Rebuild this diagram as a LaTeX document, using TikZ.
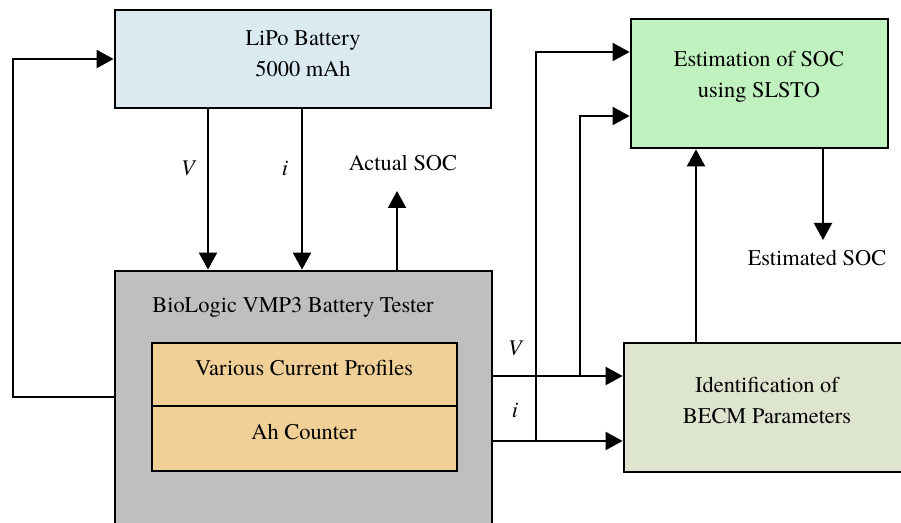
\documentclass[tikz,border=0pt]{standalone}
\usepackage{fontspec}
\setmainfont{texgyretermes}[Extension=.otf, UprightFont=*-regular, ItalicFont=*-italic, BoldFont=*-bold]
\usepackage{tikz}
\usetikzlibrary{arrows.meta}
\definecolor{battfill}{HTML}{DAEAF0}
\definecolor{testfill}{HTML}{BFBFBF}
\definecolor{profill}{HTML}{F0D096}
\definecolor{estfill}{HTML}{C0F2BF}
\definecolor{idfill}{HTML}{DDE5CF}
\tikzset{
  blk/.style={draw=black, line width=1.4pt, inner sep=0pt},
  lnk/.style={draw=black, line width=1.1pt, -{Triangle[length=8.5pt,width=9pt]}},
  txt/.style={font=\fontsize{11.2}{15.5}\selectfont, align=center, inner sep=0pt},
  sig/.style={font=\fontsize{11.2}{13}\selectfont\itshape, inner sep=0pt}
}

\begin{document}
\begin{tikzpicture}[x=0.5pt,y=-0.5pt]
  \useasboundingbox (0,0) rectangle (901,523);
  \clip (0,0) rectangle (901,523);

  % blocks
  \node[blk, fill=battfill, minimum width=188pt, minimum height=49pt] (bat) at (303,59) {};
  \node[blk, fill=testfill, minimum width=188.5pt, minimum height=134.5pt] (tst) at (303.5,405.5) {};
  \node[blk, fill=profill, minimum width=152.5pt, minimum height=31.5pt] (prof) at (304.5,374.5) {};
  \node[blk, fill=profill, minimum width=152.5pt, minimum height=32.5pt] (ahc) at (304.5,438.5) {};
  \node[blk, fill=estfill, minimum width=128.5pt, minimum height=64.5pt] (est) at (759.5,83.5) {};
  \node[blk, fill=idfill, minimum width=145.5pt, minimum height=64.5pt] (becm) at (769.5,407.5) {};

  \node[txt] (batT) at (303,54) {LiPo Battery\\5000 mAh};
  \node[txt] (tstT) at (293,307) {BioLogic VMP3 Battery Tester};
  \node[txt] (profT) at (304,368) {Various Current Profiles};
  \node[txt] (ahcT) at (304,432) {Ah Counter};
  \node[txt] (estT) at (759,77) {Estimation of SOC\\using SLSTO};
  \node[txt] (becmT) at (767,401) {Identification of\\BECM Parameters};

  % tap points
  \coordinate (fb) at (12.6,397);
  \coordinate (vx) at (208,0);
  \coordinate (ix) at (302,0);
  \coordinate (socx) at (397,191);
  \coordinate (vy) at (0,376);
  \coordinate (iy) at (0,441);
  \coordinate (j1) at (536,441);
  \coordinate (j2) at (580,376);
  \coordinate (e1) at (0,52);
  \coordinate (e2) at (0,116);
  \coordinate (ux) at (696,0);
  \coordinate (outx) at (823,240);

  % connections
  \draw[lnk] (tst.west |- fb) -- (fb) |- (bat.west);
  \draw[lnk] (bat.south -| vx) -- (tst.north -| vx);
  \draw[lnk] (bat.south -| ix) -- (tst.north -| ix);
  \draw[lnk] (tst.north -| socx) -- (socx);
  \draw[lnk] (tst.east |- vy) -- (becm.west |- vy);
  \draw[lnk] (tst.east |- iy) -- (becm.west |- iy);
  \draw[lnk] (j1) |- (est.west |- e1);
  \draw[lnk] (j2) |- (est.west |- e2);
  \draw[lnk] (becm.north -| ux) -- (est.south -| ux);
  \draw[lnk] (est.south -| outx) -- (outx);

  % labels
  \node[sig] (vlab) at (188,168) {V};
  \node[sig] (ilab) at (285,168) {i};
  \node[txt] (actual) at (403,163) {Actual SOC};
  \node[txt] (estimated) at (817,258) {Estimated SOC};
  \node[sig] (vlab2) at (515,348) {V};
  \node[sig] (ilab2) at (515,410) {i};
\end{tikzpicture}
\end{document}
